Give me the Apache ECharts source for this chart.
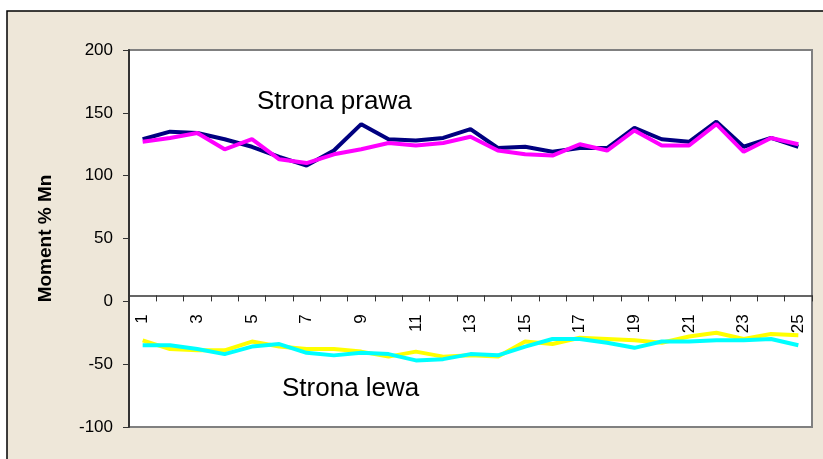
<!DOCTYPE html>
<html>
<head>
<meta charset="utf-8">
<script src="https://cdn.jsdelivr.net/npm/echarts@6/dist/echarts.min.js"></script>
<style>
  html, body { margin: 0; padding: 0; background: #fff; }
  #chart { width: 823px; height: 459px; }
</style>
</head>
<body>
<div id="chart"></div>
<script>
var categories = ['1', '2', '3', '4', '5', '6', '7', '8', '9', '10', '11', '12', '13',
  '14', '15', '16', '17', '18', '19', '20', '21', '22', '23', '24', '25']

// strona prawa
var prawaNavy = [129, 135, 134, 129, 123, 115, 108, 120, 141, 129, 128, 130, 137,
  122, 123, 119, 122, 122, 138, 129, 127, 143, 123, 130, 123]
var prawaMagenta = [127, 130, 134, 121, 129, 113, 110, 117, 121, 126, 124, 126, 131,
  120, 117, 116, 125, 120, 136, 124, 124, 141, 119, 130, 125]

// strona lewa
var lewaYellow = [-31, -38, -39, -39, -32, -36, -38, -38, -40, -44, -40, -44, -43,
  -44, -32, -34, -29, -30, -31, -33, -28, -25, -30, -26, -27]
var lewaCyan = [-35, -35, -38, -42, -36, -34, -41, -43, -41, -42, -47, -46, -42,
  -43, -36, -30, -30, -33, -37, -32, -32, -31, -31, -30, -35]

var yTicks = { min: -100, max: 200, interval: 50 }

var font = "'Liberation Sans', Arial, sans-serif"
var gridBottom = 32
var chart = echarts.init(document.getElementById('chart'))

function line(data, color) {
  return {
    type: 'line',
    data: data,
    symbol: 'none',
    animation: false,
    lineStyle: { color: color, width: 4 }
  }
}

chart.setOption({
  animation: false,
  graphic: [
    {
      type: 'rect',
      z: -10,
      shape: { x: 7, y: 11, width: 830, height: 460 },
      style: { fill: '#EEE7D9', stroke: '#000', lineWidth: 1.5 }
    },
    {
      type: 'text',
      left: 257,
      top: 89,
      z: 10,
      style: { text: 'Strona prawa', font: '26px ' + font, fill: '#000' }
    },
    {
      type: 'text',
      left: 282,
      top: 376,
      z: 10,
      style: { text: 'Strona lewa', font: '26px ' + font, fill: '#000' }
    }
  ],
  grid: {
    left: 129,
    right: 11,
    top: 50,
    bottom: gridBottom,
    show: true,
    backgroundColor: '#fff',
    borderColor: '#808080',
    borderWidth: 2
  },
  xAxis: {
    type: 'category',
    data: categories,
    axisLine: { onZero: false, lineStyle: { color: '#333', width: 1.5 } },
    axisTick: { show: true, length: 6, interval: 0, lineStyle: { color: '#333' } },
    axisLabel: {
      interval: 1,
      rotate: 90,
      margin: 19,
      color: '#000',
      fontSize: 17,
      fontFamily: font
    },
    splitLine: { show: false }
  },
  yAxis: {
    type: 'value',
    min: yTicks.min,
    max: yTicks.max,
    interval: yTicks.interval,
    name: 'Moment % Mn',
    nameLocation: 'middle',
    nameRotate: 90,
    nameGap: 74,
    nameTextStyle: { color: '#000', fontSize: 19, fontWeight: 'bold', fontFamily: font },
    axisLine: { show: true, lineStyle: { color: '#333', width: 2 } },
    axisTick: { show: true, length: 6, lineStyle: { color: '#333' } },
    axisLabel: { color: '#000', fontSize: 17, margin: 16, fontFamily: font },
    splitLine: { show: false }
  },
  series: [
    line(prawaNavy, '#000080'),
    line(prawaMagenta, '#FF00FF'),
    line(lewaYellow, '#FFFF00'),
    line(lewaCyan, '#00FFFF')
  ]
})

// move the category axis (line, ticks, labels) up to the zero line
var zeroY = chart.convertToPixel({ yAxisIndex: 0 }, 0)
var bottomY = chart.getHeight() - gridBottom
chart.setOption({ xAxis: { offset: zeroY - bottomY } })
</script>
</body>
</html>
